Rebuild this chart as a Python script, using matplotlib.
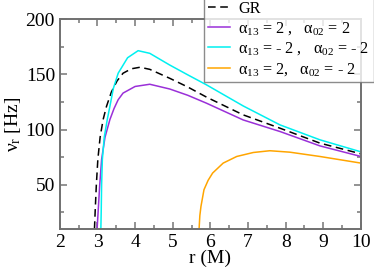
import matplotlib
matplotlib.use("Agg")
import matplotlib.pyplot as plt
from matplotlib.ticker import MultipleLocator

plt.rcParams['font.family'] = ['Liberation Serif', 'DejaVu Serif']
plt.rcParams['mathtext.fontset'] = 'custom'
plt.rcParams['mathtext.rm'] = 'Liberation Serif'
plt.rcParams['mathtext.it'] = 'Liberation Serif:italic'

# values
r_gr = [2.92, 2.94, 2.97, 3.01, 3.07, 3.15, 3.24, 3.37, 3.52, 3.68, 3.9, 4.13, 4.39, 4.92, 5.4, 5.9, 6.87, 7.85, 8.91, 10]
nu_gr = [10, 27, 50, 73, 93, 109, 121, 134, 144, 151, 155, 156.4, 154.5, 146.4, 138.5, 129.3, 113.3, 101.2, 87.7, 78]

r_pp = [2.99, 3.02, 3.06, 3.11, 3.2, 3.33, 3.44, 3.55, 3.68, 4.0, 4.39, 4.92, 5.4, 5.9, 6.87, 7.85, 8.91, 10]
nu_pp = [10, 27, 50, 73, 93, 109, 119, 127, 133, 139, 141, 136.7, 131, 123.8, 108.7, 98.2, 85.2, 75.6]

r_mm = [3.09, 3.10, 3.11, 3.13, 3.18, 3.26, 3.33, 3.42, 3.55, 3.8, 4.08, 4.39, 4.92, 5.4, 5.9, 6.87, 7.85, 8.91, 10]
nu_mm = [10, 27, 50, 73, 93, 109, 121, 137, 151, 165, 171.4, 169, 158.4, 149.5, 140.4, 121.4, 104.2, 90.7, 79.8]

r_pm = [5.70, 5.72, 5.75, 5.83, 5.94, 6.06, 6.34, 6.70, 7.14, 7.58, 8.11, 8.91, 10]
nu_pm = [10, 22, 30.4, 45.5, 54, 60.6, 69.6, 75.6, 79.2, 80.8, 79.5, 75.6, 69.6]

labels = ['GR',
          'α$_{13}$ = 2 ,   α$_{02}$ = 2',
          'α$_{13}$ = - 2 ,   α$_{02}$ = - 2',
          'α$_{13}$ = 2,   α$_{02}$ = - 2']

fig = plt.figure(figsize=(3.74, 2.69), dpi=100)
ax = fig.add_axes([0.160, 0.149, 0.805, 0.780])

ax.plot(r_gr, nu_gr, color='black', ls=(0, (5, 3)), lw=1.1, label=labels[0])
ax.plot(r_pp, nu_pp, color='#9a30d8', lw=1.1, label=labels[1])
ax.plot(r_mm, nu_mm, color='#00f0f0', lw=1.1, label=labels[2])
ax.plot(r_pm, nu_pm, color='#ffa500', lw=1.1, label=labels[3])

ax.set_xlim(2, 10)
ax.set_ylim(10, 200)
ax.xaxis.set_major_locator(MultipleLocator(1))
ax.xaxis.set_minor_locator(MultipleLocator(0.5))
ax.yaxis.set_major_locator(MultipleLocator(50))
ax.yaxis.set_minor_locator(MultipleLocator(25))
ax.tick_params(which='both', direction='in', top=True, right=True,
               color='#808080', labelsize=14, width=1.2)
ax.tick_params(which='major', length=5)
ax.tick_params(which='minor', length=3)
for s in ax.spines.values():
    s.set_color('#707070')
    s.set_linewidth(1.4)

ax.set_xlabel('r (M)', fontsize=14, labelpad=-1)
ax.set_ylabel('ν$_{\\mathrm{r}}$ [Hz]', fontsize=14, labelpad=2)

leg = fig.legend(loc='upper left', bbox_to_anchor=(0.545, 1.012), fontsize=11.6,
                 frameon=True, fancybox=False, handlelength=1.4, handletextpad=0.5,
                 borderpad=0.25, labelspacing=0.22, borderaxespad=0)
leg.get_frame().set_edgecolor('#707070')
leg.get_frame().set_linewidth(1.0)

fig.savefig('out.png', dpi=100)
